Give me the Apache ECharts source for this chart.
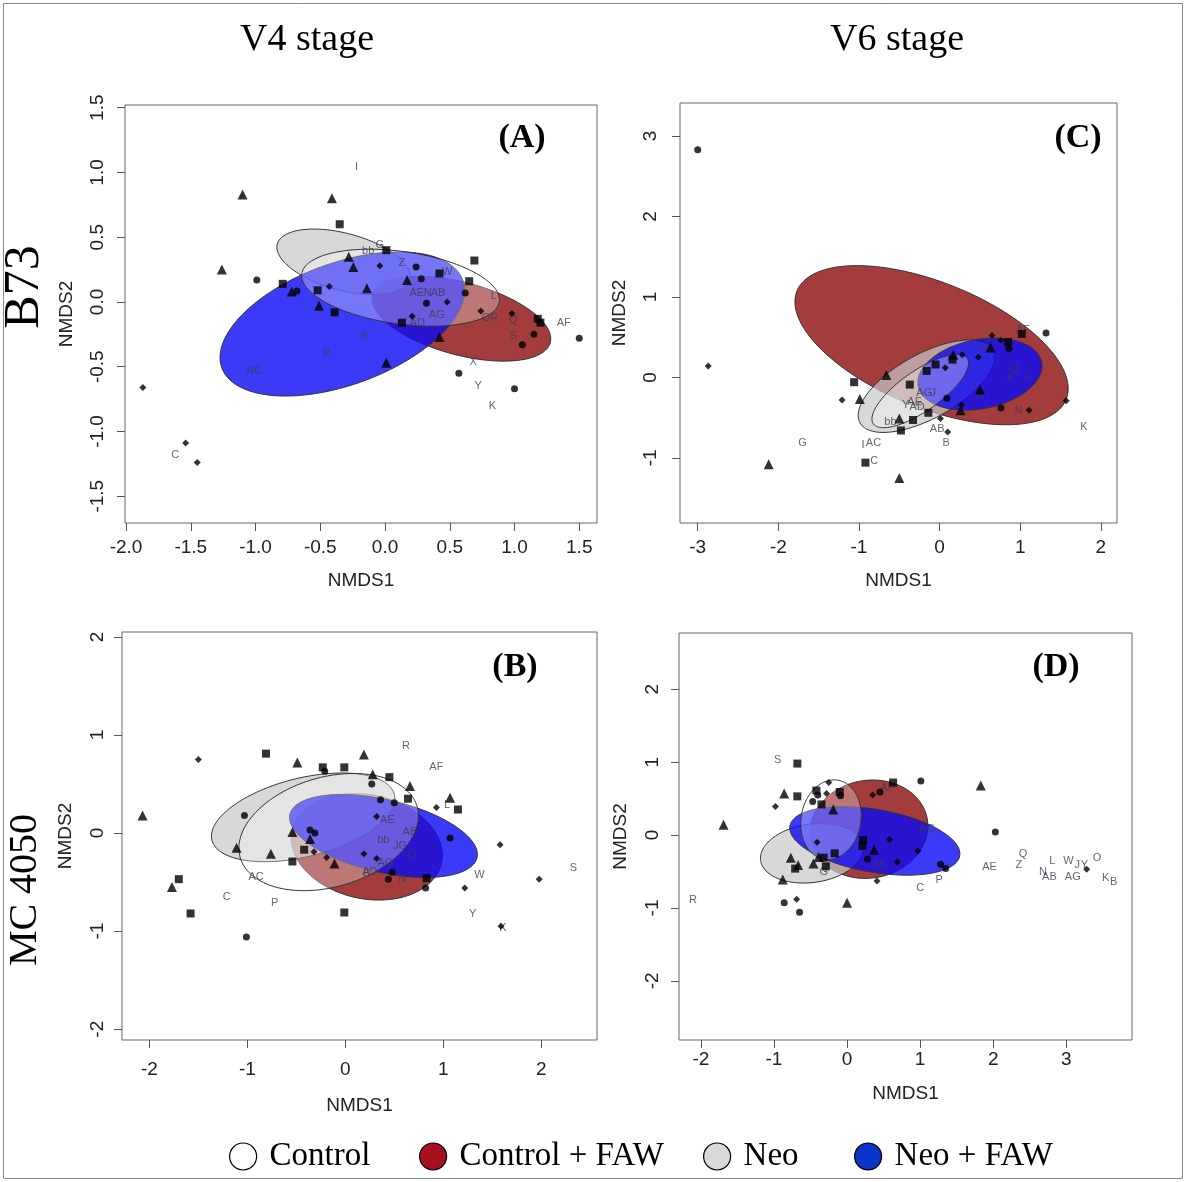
<!DOCTYPE html>
<html>
<head>
<meta charset="utf-8">
<script src="https://cdn.jsdelivr.net/npm/echarts@6.0.0/dist/echarts.min.js"></script>
<style>
  html, body { margin: 0; padding: 0; background: #fff; }
  #main { width: 1187px; height: 1182px; }
</style>
</head>
<body>
<div id="main"></div>
<script>
// tick labels
var ticksAX = [-2, -1.5, -1, -0.5, 0, 0.5, 1, 1.5];
var ticksAY = [-1.5, -1, -0.5, 0, 0.5, 1, 1.5];
var ticksCX = [-3, -2, -1, 0, 1, 2];
var ticksCY = [-1, 0, 1, 2, 3];
var ticksBX = [-2, -1, 0, 1, 2];
var ticksBY = [-2, -1, 0, 1, 2];
var ticksDX = [-2, -1, 0, 1, 2, 3];
var ticksDY = [-2, -1, 0, 1, 2];

var groups = ['Control', 'Control + FAW', 'Neo', 'Neo + FAW'];

// ---- panel A (B73, V4) ----
var aTri = [[-1.10, 0.83], [-0.41, 0.80], [-1.26, 0.25], [-0.72, 0.08], [-0.28, 0.35], [-0.245, 0.27], [-0.14, 0.105], [0.17, 0.17], [-0.51, -0.03], [0.42, -0.27], [0.01, -0.47]];
var aSq = [[-0.35, 0.60], [-0.79, 0.14], [-0.52, 0.09], [0.01, 0.40], [0.42, 0.22], [0.69, 0.32], [0.65, 0.16], [-0.39, -0.08], [0.13, -0.16], [1.18, -0.13], [1.20, -0.16]];
var aCirc = [[-0.99, 0.17], [-0.68, 0.085], [0.24, 0.27], [0.28, 0.18], [0.62, 0.07], [0.32, -0.01], [1.15, -0.25], [1.06, -0.33], [1.50, -0.28], [0.57, -0.55], [1.00, -0.67]];
var aDia = [[-0.43, 0.12], [-0.04, 0.28], [0.48, 0.0], [0.21, -0.11], [0.74, -0.07], [0.98, -0.09], [-1.87, -0.66], [-1.54, -1.09], [-1.45, -1.24]];
var aLab = [[-0.22, 1.04, 'I'], [-0.13, 0.39, 'bb'], [-0.04, 0.44, 'G'], [0.13, 0.30, 'Z'], [0.48, 0.23, 'W'], [0.245, 0.07, 'AE'], [0.33, 0.07, 'N'], [0.41, 0.07, 'AB'], [0.84, 0.05, 'L'], [0.40, -0.10, 'AG'], [0.25, -0.16, 'AD'], [0.81, -0.12, 'OR'], [0.99, -0.14, 'Q'], [1.38, -0.16, 'AF'], [0.99, -0.26, 'S'], [-0.16, -0.26, 'B'], [-0.45, -0.40, 'P'], [-1.01, -0.53, 'AC'], [0.68, -0.46, 'X'], [0.72, -0.65, 'Y'], [0.83, -0.80, 'K'], [-1.62, -1.18, 'C']];
// ellipses: [cx, cy, semi-major, semi-minor, angle deg]  order: Control, Control+FAW, Neo, Neo+FAW
var aEll = [[0.12, 0.11, 0.77, 0.28, -8], [0.59, -0.13, 0.71, 0.28, -15], [-0.32, 0.31, 0.53, 0.22, -15], [-0.33, -0.17, 0.99, 0.47, 20]];

// ---- panel C (B73, V6) ----
var cTri = [[-2.12, -1.08], [-0.66, 0.03], [-0.99, -0.27], [-0.50, -0.51], [-0.50, -1.25], [0.17, 0.28], [0.63, 0.37], [0.50, -0.15], [0.26, -0.41]];
var cSq = [[-1.06, -0.06], [-0.37, -0.09], [-0.14, -0.44], [-0.33, -0.53], [-0.48, -0.66], [-0.92, -1.06], [0.16, 0.22], [-0.05, 0.16], [-0.16, 0.08], [0.85, 0.44], [1.02, 0.54]];
var cCirc = [[-3.00, 2.83], [0.09, -0.26], [0.86, 0.36], [1.32, 0.55], [0.76, -0.38]];
var cDia = [[-2.87, 0.14], [-1.21, -0.28], [0.01, -0.51], [0.10, -0.68], [0.28, 0.28], [0.07, 0.12], [0.48, 0.25], [0.65, 0.52], [0.76, 0.46], [0.27, -0.34], [1.11, -0.41], [1.57, -0.29]];
var cLab = [[2.41, 0.78, 'S'], [-1.70, -0.82, 'G'], [-0.19, -0.19, 'AG'], [-0.08, -0.19, 'J'], [-0.42, -0.34, 'Y'], [-0.31, -0.31, 'AE'], [-0.28, -0.37, 'AD'], [-0.61, -0.56, 'bb'], [-0.03, -0.64, 'AB'], [0.08, -0.82, 'B'], [-0.95, -0.84, 'I'], [-0.82, -0.81, 'AC'], [-0.81, -1.04, 'C'], [0.54, 0.36, 'O'], [1.03, 0.59, 'AF'], [0.93, 0.11, 'Q'], [0.87, 0.00, 'X'], [1.10, 0.02, 'L'], [0.50, -0.22, 'W'], [0.98, -0.42, 'N'], [1.79, -0.62, 'K']];
var cEll = [[-0.24, -0.17, 0.71, 0.25, 35], [-0.10, 0.40, 1.80, 0.78, -22], [-0.165, -0.11, 0.94, 0.40, 29], [0.50, 0.04, 0.78, 0.43, 11]];

// ---- panel B (MC 4050, V4) ----
var bTri = [[-0.49, 0.72], [0.19, 0.80], [0.28, 0.60], [0.66, 0.48], [1.07, 0.36], [-2.07, 0.18], [-1.11, -0.15], [-0.54, 0.01], [-0.36, -0.06], [-0.76, -0.21], [-0.11, -0.31], [-1.77, -0.55]];
var bSq = [[-0.81, 0.81], [-0.23, 0.67], [-0.01, 0.67], [0.45, 0.57], [0.64, 0.35], [1.15, 0.24], [-0.42, -0.17], [-0.54, -0.29], [0.83, -0.46], [-0.01, -0.81], [-1.70, -0.47], [-1.58, -0.82]];
var bCirc = [[-0.21, 0.63], [0.27, 0.50], [0.36, 0.34], [0.50, 0.31], [-1.03, 0.18], [-0.36, 0.03], [-0.31, 0.00], [1.07, -0.05], [0.48, -0.40], [0.44, -0.47], [0.82, -0.56], [-1.01, -1.06]];
var bDia = [[-1.50, 0.75], [0.32, 0.17], [0.93, 0.26], [0.19, -0.21], [0.32, -0.26], [-0.32, -0.19], [-0.19, -0.25], [1.58, -0.12], [1.22, -0.56], [1.98, -0.47], [1.59, -0.95]];
var bLab = [[0.62, 0.89, 'R'], [0.93, 0.67, 'AF'], [1.04, 0.29, 'L'], [0.43, 0.13, 'AE'], [0.66, 0.01, 'AB'], [0.39, -0.07, 'bb'], [0.56, -0.13, 'JG'], [0.68, -0.22, 'O'], [0.41, -0.30, 'AG'], [0.25, -0.40, 'AD'], [0.22, -0.42, 'B'], [0.58, -0.47, 'N'], [1.37, -0.43, 'W'], [2.33, -0.36, 'S'], [1.30, -0.83, 'Y'], [1.61, -0.97, 'K'], [-0.91, -0.45, 'AC'], [-1.21, -0.65, 'C'], [-0.72, -0.71, 'P']];
var bEll = [[-0.17, 0.01, 0.94, 0.56, 16], [0.22, -0.14, 0.78, 0.53, -12], [-0.43, 0.16, 0.96, 0.40, 14], [0.39, -0.03, 0.98, 0.37, -13]];

// ---- panel D (MC 4050, V6) ----
var dTri = [[-0.86, 0.57], [-1.69, 0.14], [-0.19, 0.35], [0.37, -0.20], [-0.77, -0.31], [-0.39, -0.30], [-0.46, -0.39], [-0.67, -0.41], [-0.88, -0.61], [0.00, -0.93], [1.83, 0.68]];
var dSq = [[-0.68, 0.98], [-0.68, 0.53], [-0.42, 0.61], [-0.10, 0.59], [-0.35, 0.42], [0.63, 0.72], [0.22, -0.07], [0.21, -0.15], [-0.17, -0.25], [-0.32, -0.31], [-0.71, -0.46], [-0.29, -0.43]];
var dCirc = [[-0.40, 0.55], [-0.09, 0.54], [-0.47, 0.46], [0.45, 0.59], [0.28, -0.33], [-0.86, -0.93], [-0.65, -1.06], [1.01, 0.74], [2.03, 0.04], [1.28, -0.40], [1.35, -0.46]];
var dDia = [[-0.98, 0.39], [-0.25, 0.72], [-0.28, 0.57], [0.35, 0.55], [-0.41, -0.10], [0.58, -0.06], [0.69, -0.37], [0.41, -0.63], [-0.69, -0.88], [0.97, -0.22], [3.28, -0.47]];
var dLab = [[-0.95, 1.03, 'S'], [-2.11, -0.89, 'R'], [-0.32, -0.50, 'G'], [0.44, -0.40, 'bb'], [0.55, 0.65, 'AF'], [1.09, 0.08, 'AC'], [1.00, -0.72, 'C'], [1.26, -0.61, 'P'], [1.95, -0.44, 'AE'], [2.35, -0.41, 'Z'], [2.41, -0.26, 'Q'], [2.81, -0.36, 'L'], [2.68, -0.50, 'N'], [2.77, -0.58, 'AB'], [3.03, -0.36, 'W'], [3.15, -0.41, 'J'], [3.09, -0.57, 'AG'], [3.25, -0.41, 'Y'], [3.42, -0.31, 'O'], [3.54, -0.59, 'K'], [3.65, -0.64, 'B']];
var dEll = [[-0.22, 0.21, 0.55, 0.41, 80], [0.30, 0.08, 0.81, 0.67, 10], [-0.48, -0.25, 0.71, 0.40, 8], [0.38, -0.08, 1.18, 0.43, -10]];

var ellFill = ['rgba(255,255,255,0.3)', 'rgba(140,12,12,0.8)', 'rgba(200,200,200,0.7)', 'rgba(10,10,245,0.8)'];
var drawOrder = [1, 2, 3, 0]; // red, gray, blue, then white on top
var legendColors = ['#ffffff', '#a8101f', '#d9d9d9', '#0b34c8'];

var chart = echarts.init(document.getElementById('main'), null, { renderer: 'canvas' });

function xAxis(gi, min, max, ticks, dec, margin, gap) {
  return {
    type: 'value', gridIndex: gi, min: min, max: max,
    name: 'NMDS1', nameLocation: 'middle', nameGap: gap,
    nameTextStyle: { fontSize: 19, color: '#222', fontFamily: 'Liberation Sans' },
    axisLine: { show: false, onZero: false }, splitLine: { show: false },
    axisTick: { show: true, length: 8, lineStyle: { color: '#555' }, customValues: ticks },
    axisLabel: { fontSize: 19, color: '#222', margin: margin, customValues: ticks,
      formatter: function (v) { return v.toFixed(dec); } }
  };
}
function yAxis(gi, min, max, ticks, dec, margin, gap) {
  return {
    type: 'value', gridIndex: gi, min: min, max: max,
    name: 'NMDS2', nameLocation: 'middle', nameGap: gap, nameRotate: 90,
    nameTextStyle: { fontSize: 19, color: '#222', fontFamily: 'Liberation Sans' },
    axisLine: { show: false, onZero: false }, splitLine: { show: false },
    axisTick: { show: true, length: 8, lineStyle: { color: '#555' }, customValues: ticks },
    axisLabel: { fontSize: 19, color: '#222', margin: margin, rotate: 90, customValues: ticks,
      formatter: function (v) { return v.toFixed(dec); } }
  };
}

function panelSeries(gi, tri, sq, circ, dia, lab, ell) {
  var s = [];
  drawOrder.forEach(function (k) {
    s.push({
      type: 'custom', name: groups[k], xAxisIndex: gi, yAxisIndex: gi, z: 2, silent: true,
      data: [ell[k]], encode: { x: 0, y: 1 },
      renderItem: function (params, api) {
        var cx = api.value(0), cy = api.value(1), a = api.value(2), b = api.value(3);
        var ang = api.value(4) * Math.PI / 180;
        var pts = [];
        for (var i = 0; i < 160; i++) {
          var t = i / 160 * 2 * Math.PI;
          var dx = a * Math.cos(t), dy = b * Math.sin(t);
          pts.push(api.coord([cx + dx * Math.cos(ang) - dy * Math.sin(ang),
                              cy + dx * Math.sin(ang) + dy * Math.cos(ang)]));
        }
        return { type: 'polygon', shape: { points: pts },
                 style: { fill: ellFill[k], stroke: '#333', lineWidth: 1 } };
      }
    });
  });
  // species labels, drawn over the ellipses
  s.push({
    type: 'scatter', xAxisIndex: gi, yAxisIndex: gi, z: 3, silent: true,
    symbolSize: 1, itemStyle: { color: 'rgba(0,0,0,0)' },
    data: lab.map(function (d) { return { value: [d[0], d[1]], name: d[2] }; }),
    label: { show: true, position: 'inside', formatter: '{b}', fontSize: 11, color: '#3c3c50' }
  });
  var shapes = [['triangle', tri, 10], ['rect', sq, 8], ['circle', circ, 7], ['diamond', dia, 7]];
  shapes.forEach(function (sh) {
    s.push({
      type: 'scatter', xAxisIndex: gi, yAxisIndex: gi, z: 4, silent: true,
      symbol: sh[0], symbolSize: sh[2], itemStyle: { color: '#000' }, data: sh[1]
    });
  });
  return s;
}

var legendLeft = [224, 414, 698, 849];

var option = {
  animation: false,
  backgroundColor: '#fff',
  textStyle: { fontFamily: 'Liberation Sans' },
  grid: [
    { left: 125, top: 105, width: 472, height: 418, show: true, borderColor: '#666', borderWidth: 1, backgroundColor: 'transparent' },
    { left: 680, top: 103, width: 437, height: 420, show: true, borderColor: '#666', borderWidth: 1, backgroundColor: 'transparent' },
    { left: 122, top: 632, width: 475, height: 408, show: true, borderColor: '#666', borderWidth: 1, backgroundColor: 'transparent' },
    { left: 679, top: 633, width: 453, height: 407, show: true, borderColor: '#666', borderWidth: 1, backgroundColor: 'transparent' }
  ],
  xAxis: [
    xAxis(0, -2.008, 1.637, ticksAX, 1, 15, 48),
    xAxis(1, -3.22, 2.20, ticksCX, 0, 15, 48),
    xAxis(2, -2.28, 2.57, ticksBX, 0, 20, 56),
    xAxis(3, -2.30, 3.90, ticksDX, 0, 10, 44)
  ],
  yAxis: [
    yAxis(0, -1.707, 1.521, ticksAY, 1, 18, 49),
    yAxis(1, -1.81, 3.41, ticksCY, 0, 20, 51),
    yAxis(2, -2.11, 2.05, ticksBY, 0, 15, 47),
    yAxis(3, -2.81, 2.77, ticksDY, 0, 17, 49)
  ],
  legend: groups.map(function (g, i) {
    return {
      data: [{ name: g, itemStyle: { color: legendColors[i], borderColor: '#000', borderWidth: 1.2 } }],
      left: legendLeft[i], top: 1135, icon: 'circle', itemWidth: 27, itemHeight: 27,
      selectedMode: false,
      textStyle: { fontFamily: 'Liberation Serif', fontSize: 33, color: '#000', padding: [0, 0, 0, 8] }
    };
  }),
  graphic: [
    { type: 'rect', silent: true, shape: { x: 3.5, y: 3.5, width: 1179, height: 1175 }, style: { fill: 'none', stroke: '#888', lineWidth: 1 } },
    { type: 'text', style: { text: 'V4 stage', x: 307, y: 40, textAlign: 'center', textVerticalAlign: 'middle', font: '38px "Liberation Serif"', fill: '#000' } },
    { type: 'text', style: { text: 'V6 stage', x: 897, y: 40, textAlign: 'center', textVerticalAlign: 'middle', font: '38px "Liberation Serif"', fill: '#000' } },
    { type: 'text', x: 25, y: 287, rotation: Math.PI / 2, style: { text: 'B73', x: 0, y: 0, textAlign: 'center', textVerticalAlign: 'middle', font: '50px "Liberation Serif"', fill: '#000' } },
    { type: 'text', x: 25, y: 890, rotation: Math.PI / 2, style: { text: 'MC 4050', x: 0, y: 0, textAlign: 'center', textVerticalAlign: 'middle', font: '40px "Liberation Serif"', fill: '#000' } },
    { type: 'text', z: 10, style: { text: '(A)', x: 522, y: 138, textAlign: 'center', textVerticalAlign: 'middle', font: 'bold 34px "Liberation Serif"', fill: '#000' } },
    { type: 'text', z: 10, style: { text: '(C)', x: 1078, y: 138, textAlign: 'center', textVerticalAlign: 'middle', font: 'bold 34px "Liberation Serif"', fill: '#000' } },
    { type: 'text', z: 10, style: { text: '(B)', x: 515, y: 667, textAlign: 'center', textVerticalAlign: 'middle', font: 'bold 34px "Liberation Serif"', fill: '#000' } },
    { type: 'text', z: 10, style: { text: '(D)', x: 1056, y: 667, textAlign: 'center', textVerticalAlign: 'middle', font: 'bold 34px "Liberation Serif"', fill: '#000' } }
  ],
  series: [].concat(
    panelSeries(0, aTri, aSq, aCirc, aDia, aLab, aEll),
    panelSeries(1, cTri, cSq, cCirc, cDia, cLab, cEll),
    panelSeries(2, bTri, bSq, bCirc, bDia, bLab, bEll),
    panelSeries(3, dTri, dSq, dCirc, dDia, dLab, dEll)
  )
};

chart.setOption(option);
</script>
</body>
</html>
